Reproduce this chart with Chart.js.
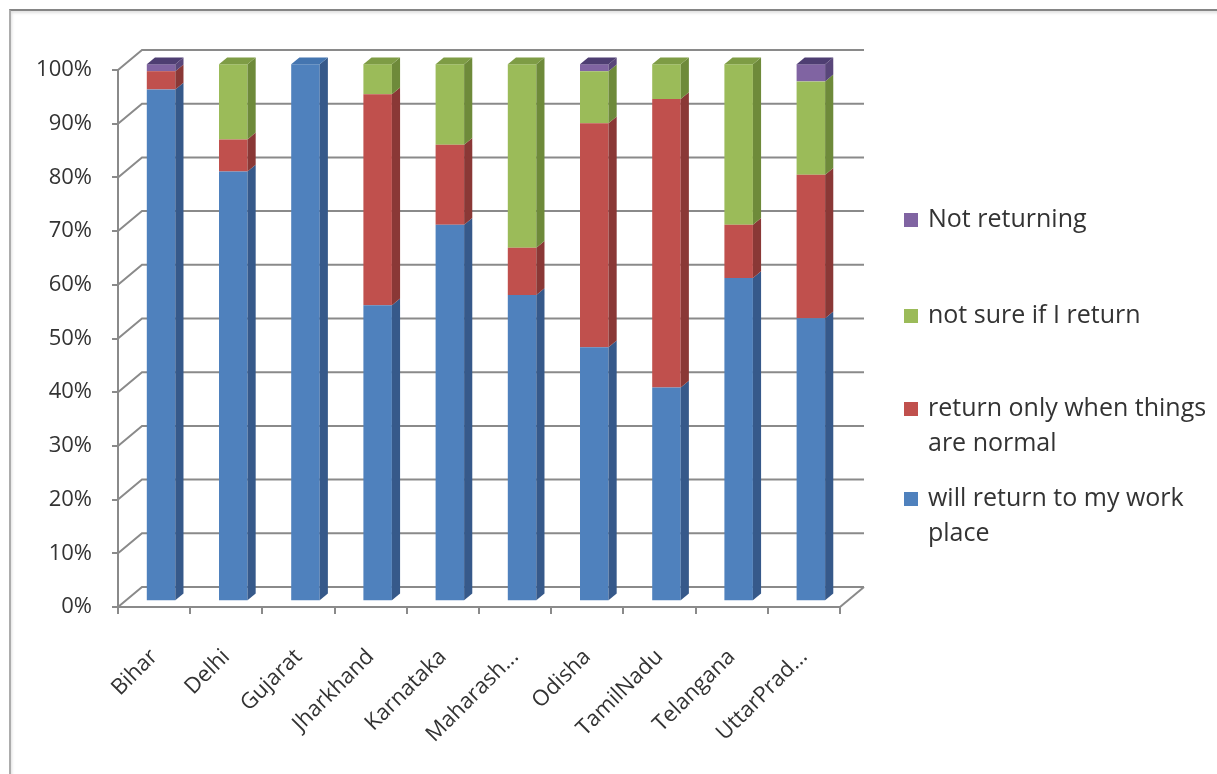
<!DOCTYPE html>
<html>
<head>
<meta charset="utf-8">
<script src="https://cdn.jsdelivr.net/npm/chart.js@4.4.1/dist/chart.umd.min.js"></script>
<style>
  html, body { margin: 0; padding: 0; background: #fff; }
  #wrap { position: relative; width: 1217px; height: 774px; overflow: hidden; }
  #frame {
    position: absolute; left: 9px; top: 9px; right: -10px; bottom: -10px;
    border-top: 2px solid #858585; border-left: 2px solid #acacac;
    box-shadow: inset 1px 2px 3px rgba(0, 0, 0, 0.12);
  }
  canvas { position: absolute; left: 0; top: 0; }
</style>
</head>
<body>
<div id="wrap">
  <div id="frame"></div>
  <canvas id="chart" width="1217" height="774"></canvas>
</div>
<script>
const states = ['Bihar', 'Delhi', 'Gujarat', 'Jharkhand', 'Karnataka', 'Maharash...', 'Odisha', 'TamilNadu', 'Telangana', 'UttarPrad...'];

// share of respondents, % (each state adds up to 100)
const willReturn       = [95.3, 80.0, 100, 55.1, 70.1, 57.0, 47.3, 39.8, 60.2, 52.7];
const returnWhenNormal = [3.4,  6.0,  0,   39.3, 14.9, 8.8,  41.7, 53.7, 9.9,  26.7];
const notSure          = [0,    14.0, 0,   5.6,  15.0, 34.2, 9.7,  6.5,  29.9, 17.4];
const notReturning     = [1.3,  0,    0,   0,    0,    0,    1.3,  0,    0,    3.2];

const seriesLabels = ['will return to my work place', 'return only when things are normal', 'not sure if I return', 'Not returning'];
const percentTicks = [0, 10, 20, 30, 40, 50, 60, 70, 80, 90, 100];

const frontColors = ['#4F81BD', '#C0504D', '#9BBB59', '#8064A2'];
const sideColors  = ['#36598A', '#8A3836', '#6E8A3A', '#59467A'];
const topColors   = ['#4475B0', '#A94643', '#7E9C45', '#4E3E72'];

const textColor = '#333333';
const lineColor = '#8a8a8a';

// floor depth: front axis -> back wall, bars occupy a slice of it
const depth = { x: 24, y: -20 };
const barFront = 0.29;
const barBack = 0.63;

function wrapText(ctx, text, maxWidth) {
  const words = text.split(' ');
  const lines = [];
  let line = '';
  words.forEach(w => {
    const test = line ? line + ' ' + w : w;
    if (line && ctx.measureText(test).width > maxWidth) {
      lines.push(line);
      line = w;
    } else {
      line = test;
    }
  });
  if (line) lines.push(line);
  return lines;
}

const walls = {
  id: 'walls',
  beforeDatasetsDraw(chart) {
    const { ctx, chartArea: a, scales: { y } } = chart;
    ctx.save();
    ctx.strokeStyle = lineColor;
    ctx.lineWidth = 2;
    // left wall diagonals + back wall gridlines
    y.ticks.forEach(t => {
      const py = y.getPixelForValue(t.value);
      ctx.beginPath();
      ctx.moveTo(a.left, py);
      ctx.lineTo(a.left + depth.x, py + depth.y);
      ctx.lineTo(a.right + depth.x, py + depth.y);
      ctx.stroke();
    });
    // right edge of the floor
    ctx.beginPath();
    ctx.moveTo(a.right, a.bottom);
    ctx.lineTo(a.right + depth.x, a.bottom + depth.y);
    ctx.stroke();
    ctx.restore();

    // push the bars back into the floor depth
    ctx.save();
    ctx.translate(depth.x * barFront, depth.y * barFront);
  },
  afterDatasetsDraw(chart) {
    const { ctx } = chart;
    const dx = depth.x * (barBack - barFront);
    const dy = depth.y * (barBack - barFront);
    const metas = chart.getSortedVisibleDatasetMetas();

    states.forEach((_, i) => {
      let topK = -1;
      metas.forEach((m, k) => {
        if (chart.data.datasets[m.index].data[i] > 0) topK = k;
      });
      metas.forEach((m, k) => {
        if (!(chart.data.datasets[m.index].data[i] > 0)) return;
        const { x, y, base, width } = m.data[i].getProps(['x', 'y', 'base', 'width'], true);
        const l = x - width / 2;
        const r = x + width / 2;

        ctx.fillStyle = sideColors[m.index];
        ctx.beginPath();
        ctx.moveTo(r, y);
        ctx.lineTo(r + dx, y + dy);
        ctx.lineTo(r + dx, base + dy);
        ctx.lineTo(r, base);
        ctx.closePath();
        ctx.fill();

        if (k === topK) {
          ctx.fillStyle = topColors[m.index];
          ctx.beginPath();
          ctx.moveTo(l, y);
          ctx.lineTo(l + dx, y + dy);
          ctx.lineTo(r + dx, y + dy);
          ctx.lineTo(r, y);
          ctx.closePath();
          ctx.fill();
        }
      });
    });
    ctx.restore();
  }
};

const sideLegend = {
  id: 'sideLegend',
  afterDraw(chart, args, opts) {
    const { ctx } = chart;
    ctx.save();
    ctx.font = opts.font;
    ctx.textBaseline = 'middle';
    ctx.textAlign = 'left';
    const items = chart.data.datasets.map(d => ({ text: d.label, color: d.backgroundColor })).reverse();
    items.forEach((it, n) => {
      const y0 = opts.rows[n];
      ctx.fillStyle = it.color;
      ctx.fillRect(opts.x, y0 - opts.box / 2, opts.box, opts.box);
      ctx.fillStyle = textColor;
      wrapText(ctx, it.text, opts.maxWidth).forEach((ln, j) => {
        ctx.fillText(ln, opts.x + opts.box + opts.gap, y0 + j * opts.lineHeight);
      });
    });
    ctx.restore();
  }
};

const series = [willReturn, returnWhenNormal, notSure, notReturning];

new Chart(document.getElementById('chart'), {
  type: 'bar',
  data: {
    labels: states,
    datasets: series.map((values, i) => ({
      label: seriesLabels[i],
      data: values,
      backgroundColor: frontColors[i],
      borderWidth: 0,
      barPercentage: 0.395,
      categoryPercentage: 1,
      clip: false
    }))
  },
  options: {
    responsive: false,
    animation: false,
    layout: { padding: { top: 70, right: 377, left: 0, bottom: 0 } },
    plugins: {
      legend: { display: false },
      tooltip: { enabled: false },
      sideLegend: {
        x: 904,
        box: 14,
        gap: 10,
        rows: [220, 316, 409, 499],
        lineHeight: 35,
        maxWidth: 290,
        font: '25px "Open Sans"'
      }
    },
    scales: {
      x: {
        stacked: true,
        afterFit: s => { s.height = 167; },
        grid: { drawOnChartArea: false, tickLength: 7, color: lineColor, lineWidth: 2 },
        border: { color: lineColor, width: 2 },
        ticks: {
          autoSkip: false,
          minRotation: 45,
          maxRotation: 45,
          padding: 30,
          color: textColor,
          font: { family: 'Open Sans', size: 22 }
        }
      },
      y: {
        stacked: true,
        min: 0,
        max: 100,
        afterFit: s => { s.width = 118; },
        afterBuildTicks: s => { s.ticks = percentTicks.map(v => ({ value: v })); },
        grid: { drawOnChartArea: false, tickLength: 6, color: lineColor, lineWidth: 2 },
        border: { color: lineColor, width: 2 },
        ticks: {
          padding: 20,
          color: textColor,
          font: { family: 'Open Sans', size: 22 },
          callback: v => v + '%'
        }
      }
    }
  },
  plugins: [walls, sideLegend]
});
</script>
</body>
</html>
